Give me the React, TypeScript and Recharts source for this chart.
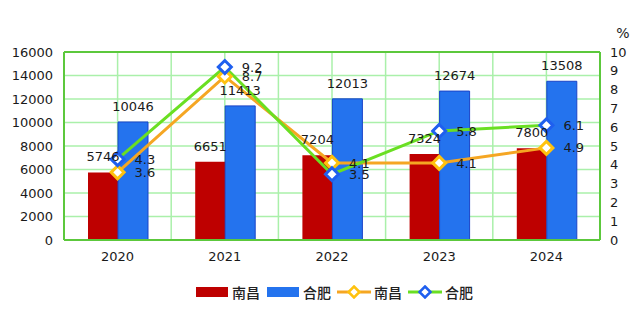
import React from 'react';
import {
  ComposedChart, Bar, Line, XAxis, YAxis, CartesianGrid, Legend, LabelList, ReferenceLine,
} from 'recharts';

const years = ['2020', '2021', '2022', '2023', '2024'];
const nanchangGdp = [5746, 6651, 7204, 7324, 7800];
const hefeiGdp = [10046, 11413, 12013, 12674, 13508];
const nanchangGrowth = [3.6, 8.7, 4.1, 4.1, 4.9];
const hefeiGrowth = [4.3, 9.2, 3.5, 5.8, 6.1];
const leftTicks = [0, 2000, 4000, 6000, 8000, 10000, 12000, 14000, 16000];
const rightTicks = [0, 1, 2, 3, 4, 5, 6, 7, 8, 9, 10];

const data = years.map((year, i) => ({
  year,
  ncBar: nanchangGdp[i],
  hfBar: hefeiGdp[i],
  ncLine: nanchangGrowth[i],
  hfLine: hefeiGrowth[i],
}));

const RED = '#BE0000';
const BLUE = '#2473EE';
const ORANGE = '#F5A623';
const YELLOW = '#FFC20E';
const GREEN = '#6ADF22';
const MARKER_BLUE = '#1F5FEF';
const GRID = '#AAF0AA';
const BORDER = '#5CC83C';
const FONT = '"DejaVu Sans", Verdana, sans-serif';
const CJK = '"Noto Sans CJK SC", sans-serif';

const markerColors: Record<string, string> = { ncLine: YELLOW, hfLine: MARKER_BLUE };
const legendOrder = ['ncBar', 'hfBar', 'ncLine', 'hfLine'];

const diamond = (color: string) => (props: any) => {
  const { cx, cy, index } = props;
  if (cx == null || cy == null) return null;
  const r = 6.5;
  return (
    <polygon
      key={index}
      points={`${cx},${cy - r} ${cx + r},${cy} ${cx},${cy + r} ${cx - r},${cy}`}
      fill="#fff"
      stroke={color}
      strokeWidth={3}
    />
  );
};

const renderLegend = (props: any) => {
  const payload = [...(props.payload || [])].sort(
    (a: any, b: any) => legendOrder.indexOf(a.dataKey) - legendOrder.indexOf(b.dataKey)
  );
  return (
    <div style={{ display: 'flex', justifyContent: 'center', paddingLeft: 34, height: 20, alignItems: 'center' }}>
      {payload.map((entry: any, i: number) => (
        <div key={i} style={{ display: 'flex', alignItems: 'center', marginRight: 6 }}>
          <svg width={34} height={14}>
            {entry.type === 'rect' ? (
              <rect x={1} y={2} width={32} height={10} fill={entry.color} />
            ) : (
              <g>
                <line x1={0} y1={7} x2={34} y2={7} stroke={entry.color} strokeWidth={3} />
                <polygon points="17,1.5 22.5,7 17,12.5 11.5,7" fill="#fff" stroke={markerColors[entry.dataKey]} strokeWidth={2.5} />
              </g>
            )}
          </svg>
          <span style={{ fontFamily: CJK, fontSize: 14, fontWeight: 500, color: '#222', marginLeft: 3, lineHeight: '20px' }}>{entry.value}</span>
        </div>
      ))}
    </div>
  );
};

const tickStyle = { fontFamily: FONT, fontSize: 13, fill: '#1a1a1a' };
const labelStyle = { fontFamily: FONT, fontSize: 13, fill: '#1a1a1a' };

export default function App() {
  return (
    <div style={{ position: 'absolute', left: 0, top: 0, width: 640, height: 316, background: '#fff' }}>
      <ComposedChart width={640} height={316} data={data} margin={{ top: 52, right: 0, bottom: 14, left: 0 }} barGap={0}>
        <CartesianGrid
          yAxisId="left"
          stroke={GRID}
          strokeWidth={1.5}
          verticalCoordinatesGenerator={({ offset }: any) =>
            Array.from({ length: 9 }, (_, i) => offset.left + ((i + 1) * offset.width) / 10)
          }
        />
        <XAxis
          dataKey="year"
          height={42}
          tick={tickStyle}
          tickLine={false}
          tickMargin={6}
          axisLine={{ stroke: BORDER, strokeWidth: 2 }}
        />
        <YAxis
          yAxisId="left"
          width={64}
          domain={[0, 16000]}
          ticks={leftTicks}
          interval={0}
          tick={tickStyle}
          tickLine={false}
          tickMargin={5}
          axisLine={{ stroke: BORDER, strokeWidth: 2 }}
        />
        <YAxis
          yAxisId="right"
          orientation="right"
          width={40}
          domain={[0, 10]}
          ticks={rightTicks}
          interval={0}
          tick={tickStyle}
          tickLine={false}
          tickMargin={4}
          axisLine={{ stroke: BORDER, strokeWidth: 2 }}
          label={{ value: '%', position: 'top', offset: 14, dx: 3, style: { ...labelStyle, fontSize: 14 } }}
        />
        <ReferenceLine yAxisId="left" y={16000} stroke={BORDER} strokeWidth={2} />
        <Bar yAxisId="left" dataKey="ncBar" name="南昌" fill={RED} barSize={30} legendType="rect" isAnimationActive={false}>
          <LabelList dataKey="ncBar" position="top" offset={11} style={labelStyle} />
        </Bar>
        <Bar yAxisId="left" dataKey="hfBar" name="合肥" fill={BLUE} stroke="#1A44C8" strokeWidth={1} barSize={30} legendType="rect" isAnimationActive={false}>
          <LabelList dataKey="hfBar" position="top" offset={11} style={labelStyle} />
        </Bar>
        <Line
          yAxisId="right"
          dataKey="ncLine"
          name="南昌"
          stroke={ORANGE}
          strokeWidth={3}
          dot={diamond(YELLOW)}
          activeDot={false}
          legendType="diamond"
          isAnimationActive={false}
        >
          <LabelList dataKey="ncLine" position="right" offset={17} style={labelStyle} />
        </Line>
        <Line
          yAxisId="right"
          dataKey="hfLine"
          name="合肥"
          stroke={GREEN}
          strokeWidth={3}
          dot={diamond(MARKER_BLUE)}
          activeDot={false}
          legendType="diamond"
          isAnimationActive={false}
        >
          <LabelList dataKey="hfLine" position="right" offset={17} style={labelStyle} />
        </Line>
        <Legend verticalAlign="bottom" content={renderLegend} />
      </ComposedChart>
    </div>
  );
}
